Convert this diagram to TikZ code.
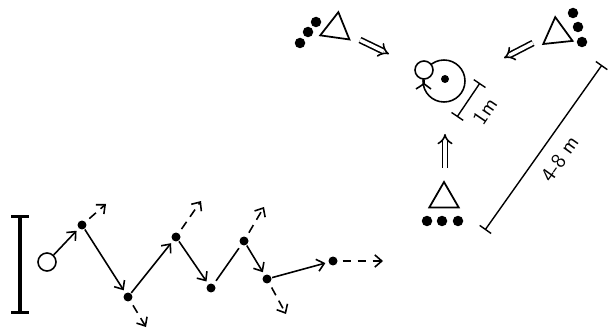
\documentclass[tikz,border=0pt]{standalone}
\usepackage{tikz}
\usetikzlibrary{arrows.meta,shapes.geometric}

\begin{document}
\begin{tikzpicture}[x=0.02cm,y=-0.02cm,line width=0.9pt,
  >={Straight Barb[length=4pt,width=7pt]}]
\tikzstyle{every node}+=[inner sep=0pt]
\tikzstyle{player}=[circle,fill=black,minimum size=0.18cm]
\tikzstyle{waiter}=[circle,fill=black,minimum size=0.21cm]
\tikzstyle{cone}=[regular polygon,regular polygon sides=3,draw,line width=1pt,minimum size=0.68cm]
\tikzstyle{run}=[->,shorten >=1.5pt]
\tikzstyle{pass}=[->,dash pattern=on 5pt off 3.5pt,shorten <=2.5pt]
\tikzstyle{go}=[double,double distance=2pt,line width=0.9pt,-{Implies}]
\tikzstyle{measure}=[line width=0.8pt,{Bar[width=8pt]}-{Bar[width=8pt]}]
\tikzstyle{dim}=[font=\sffamily\large,midway,sloped,below=7pt]
\useasboundingbox (0,0) rectangle (609,331);
% left: zigzag run
\coordinate (barT) at (20,215);
\coordinate (barB) at (20,314);
\draw [line width=1.8pt,{Bar[width=10pt,line width=1.8pt]}-{Bar[width=10pt,line width=1.8pt]}] (barT) -- (barB);
\node [circle,draw,minimum size=0.36cm] (ball) at (47,262) {};
\node [player] (p1) at (82,225) {};
\node [player] (p2) at (128,297) {};
\node [player] (p3) at (176,237) {};
\node [player] (p4) at (211,288) {};
\node [player] (p5) at (244,241) {};
\node [player] (p6) at (267,279) {};
\node [player] (p7) at (333,261) {};
\coordinate (d1) at (106,204);
\coordinate (d2) at (146,327);
\coordinate (d3) at (201,201);
\coordinate (d5) at (264,207);
\coordinate (d6) at (286,314);
\coordinate (d7) at (383,261);
\draw [run] (ball) -- (p1);
\draw [run] (p1) -- (p2);
\draw [run] (p2) -- (p3);
\draw [run] (p3) -- (p4);
\draw [shorten <=2pt,shorten >=2pt] (p4) -- (p5);
\draw [run] (p5) -- (p6);
\draw [run] (p6) -- (p7);
\draw [pass] (p1) -- (d1);
\draw [pass] (p2) -- (d2);
\draw [pass] (p3) -- (d3);
\draw [pass] (p5) -- (d5);
\draw [pass] (p6) -- (d6);
\draw [pass] (p7) -- (d7);
% right: three cones round the centre
\node [circle,draw,minimum size=0.84cm] (ring) at (444,81) {};
\node [circle,fill=black,minimum size=0.16cm] (spot) at (445,79) {};
\node [circle,draw,fill=white,minimum size=0.36cm] (head) at (424,70) {};
\draw (head.south) -- ++(0,4) coordinate (hip);
\draw (416,89) -- (hip) -- (431,89);
\node [cone,rotate=-8] (coneL) at (336,29) {};
\node [cone,rotate=6] (coneR) at (557,34) {};
\node [cone] (coneB) at (444,199) {};
\node [waiter] (wL1) at (300,43) {};
\node [waiter] (wL2) at (308,32) {};
\node [waiter] (wL3) at (316,22) {};
\node [waiter] (wR1) at (573,13) {};
\node [waiter] (wR2) at (578,27) {};
\node [waiter] (wR3) at (582,42) {};
\node [waiter] (wB1) at (427,221) {};
\node [waiter] (wB2) at (442,221) {};
\node [waiter] (wB3) at (458,221) {};
\coordinate (gL1) at (360,40);
\coordinate (gL2) at (389,54);
\coordinate (gR1) at (533,43);
\coordinate (gR2) at (504,58);
\coordinate (gB1) at (445,168);
\coordinate (gB2) at (445,134);
\draw [go] (gL1) -- (gL2);
\draw [go] (gR1) -- (gR2);
\draw [go] (gB1) -- (gB2);
\coordinate (m1a) at (457,117);
\coordinate (m1b) at (480,83);
\coordinate (m2a) at (485,230);
\coordinate (m2b) at (602,65);
\draw [measure] (m1a) -- node [dim] {1m} (m1b);
\draw [measure] (m2a) -- node [dim] {4-8 m} (m2b);
\end{tikzpicture}
\end{document}
